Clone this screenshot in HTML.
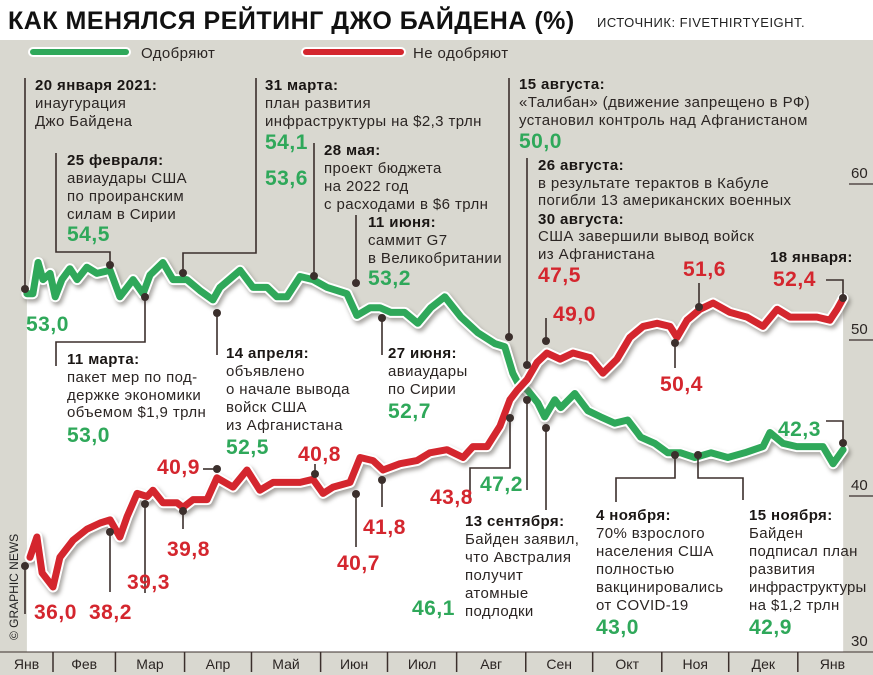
<!DOCTYPE html>
<html><head><meta charset="utf-8">
<style>
html,body{margin:0;padding:0;background:#fff;}
svg{display:block;font-family:"Liberation Sans","Noto Sans CJK SC",sans-serif;}
.t{font-size:15px;fill:#2b2523;letter-spacing:0.4px;}
.b{font-size:15px;font-weight:bold;fill:#1a1614;letter-spacing:0.4px;}
.g{font-size:21px;font-weight:bold;fill:#2fa85a;letter-spacing:0.5px;}
.r{font-size:21px;font-weight:bold;fill:#d4262e;letter-spacing:0.5px;}
.m{font-size:14px;fill:#2b2523;}
.ld{stroke:#3b2f2c;stroke-width:1.6;fill:none;}
</style></head><body>
<svg id="chart" width="873" height="675" viewBox="0 0 873 675">
<defs>
<filter id="sh" x="-5%" y="-5%" width="110%" height="120%"><feGaussianBlur stdDeviation="2"/></filter>
</defs>
<rect x="0" y="40" width="873" height="635" fill="#d9d8d0"/>
<g id="whiteArea"></g>
<g id="lines"></g>
<text x="8" y="29" style="font-size:25px;font-weight:bold;fill:#111;letter-spacing:0.5px">КАК МЕНЯЛСЯ РЕЙТИНГ ДЖО БАЙДЕНА (%)</text>
<text x="597" y="27" style="font-size:13px;fill:#222;letter-spacing:0.5px">ИСТОЧНИК: FIVETHIRTYEIGHT.</text>
<g>
<line x1="33" y1="52" x2="126" y2="52" stroke="#fff" stroke-width="10" stroke-linecap="round"/>
<line x1="33" y1="52" x2="126" y2="52" stroke="#2fa85a" stroke-width="6" stroke-linecap="round"/>
<text x="141" y="58" class="t">Одобряют</text>
<line x1="306" y1="52" x2="401" y2="52" stroke="#fff" stroke-width="10" stroke-linecap="round"/>
<line x1="306" y1="52" x2="401" y2="52" stroke="#d4262e" stroke-width="6" stroke-linecap="round"/>
<text x="413" y="58" class="t">Не одобряют</text>
</g>
<g id="axes">
<rect x="0" y="652" width="873" height="23" fill="#d9d8d0"/>
<line x1="0" y1="652" x2="873" y2="652" stroke="#3b2f2c" stroke-width="1"/>
</g>
<text x="18" y="640" transform="rotate(-90 18 640)" style="font-size:12px;fill:#222">© GRAPHIC NEWS</text>
<g>
<path class="ld" d="M25 78V289"/>
<path class="ld" d="M56 153V252H110V265"/>
<path class="ld" d="M256 78V253H183V273"/>
<path class="ld" d="M314 143V276"/>
<path class="ld" d="M356 215V283"/>
<path class="ld" d="M509 78V337"/>
<path class="ld" d="M527 158V365"/>
<path class="ld" d="M826 280H843V298"/>
<path class="ld" d="M699 283V307"/>
<path class="ld" d="M546 318V341"/>
<path class="ld" d="M675 343V368"/>
<path class="ld" d="M826 421H843V443"/>
<path class="ld" d="M145 297V342H56V366"/>
<path class="ld" d="M217 313V355"/>
<path class="ld" d="M382 318V355"/>
<path class="ld" d="M203 469H217"/>
<path class="ld" d="M315 474V464"/>
<path class="ld" d="M145 504V593"/>
<path class="ld" d="M183 511V529"/>
<path class="ld" d="M110 532V592"/>
<path class="ld" d="M25 566V614"/>
<path class="ld" d="M382 480V507"/>
<path class="ld" d="M356 494V547"/>
<path class="ld" d="M510 418V468H470V503"/>
<path class="ld" d="M527 400V490"/>
<path class="ld" d="M546 428V510"/>
<path class="ld" d="M675 455V478H616V502"/>
<path class="ld" d="M698 455V478H743V500"/>
<g fill="#3b2f2c">
<circle cx="25" cy="289" r="4"/><circle cx="110" cy="265" r="4"/><circle cx="183" cy="273" r="4"/>
<circle cx="314" cy="276" r="4"/><circle cx="356" cy="283" r="4"/><circle cx="509" cy="337" r="4"/>
<circle cx="527" cy="365" r="4"/><circle cx="843" cy="298" r="4"/><circle cx="699" cy="307" r="4"/>
<circle cx="546" cy="341" r="4"/><circle cx="675" cy="343" r="4"/><circle cx="843" cy="443" r="4"/>
<circle cx="145" cy="297" r="4"/><circle cx="217" cy="313" r="4"/><circle cx="382" cy="318" r="4"/>
<circle cx="217" cy="469" r="4"/><circle cx="315" cy="474" r="4"/><circle cx="145" cy="504" r="4"/>
<circle cx="183" cy="511" r="4"/><circle cx="110" cy="532" r="4"/><circle cx="25" cy="566" r="4"/>
<circle cx="382" cy="480" r="4"/><circle cx="356" cy="494" r="4"/><circle cx="510" cy="418" r="4"/>
<circle cx="527" cy="400" r="4"/><circle cx="546" cy="428" r="4"/><circle cx="675" cy="455" r="4"/>
<circle cx="698" cy="455" r="4"/>
</g>
<text x="35" y="90" class="b">20 января 2021:</text>
<text x="35" y="108" class="t">инаугурация</text>
<text x="35" y="126" class="t">Джо Байдена</text>

<text x="67" y="165" class="b">25 февраля:</text>
<text x="67" y="183" class="t">авиаудары США</text>
<text x="67" y="201" class="t">по проиранским</text>
<text x="67" y="219" class="t">силам в Сирии</text>
<text x="67" y="241" class="g">54,5</text>

<text x="265" y="90" class="b">31 марта:</text>
<text x="265" y="108" class="t">план развития</text>
<text x="265" y="126" class="t">инфраструктуры на $2,3 трлн</text>
<text x="265" y="149" class="g">54,1</text>
<text x="265" y="185" class="g">53,6</text>

<text x="324" y="155" class="b">28 мая:</text>
<text x="324" y="173" class="t">проект бюджета</text>
<text x="324" y="191" class="t">на 2022 год</text>
<text x="324" y="209" class="t">с расходами в $6 трлн</text>

<text x="368" y="227" class="b">11 июня:</text>
<text x="368" y="245" class="t">саммит G7</text>
<text x="368" y="263" class="t">в Великобритании</text>
<text x="368" y="285" class="g">53,2</text>

<text x="519" y="89" class="b">15 августа:</text>
<text x="519" y="107" class="t">«Талибан» (движение запрещено в РФ)</text>
<text x="519" y="125" class="t">установил контроль над Афганистаном</text>
<text x="519" y="148" class="g">50,0</text>

<text x="538" y="170" class="b">26 августа:</text>
<text x="538" y="188" class="t">в результате терактов в Кабуле</text>
<text x="538" y="205" class="t">погибли 13 американских военных</text>
<text x="538" y="224" class="b">30 августа:</text>
<text x="538" y="241" class="t">США завершили вывод войск</text>
<text x="538" y="259" class="t">из Афганистана</text>
<text x="538" y="282" class="r">47,5</text>

<text x="770" y="262" class="b">18 января:</text>
<text x="773" y="286" class="r">52,4</text>
<text x="683" y="276" class="r">51,6</text>
<text x="553" y="321" class="r">49,0</text>
<text x="660" y="391" class="r">50,4</text>
<text x="778" y="436" class="g">42,3</text>
<text x="26" y="331" class="g">53,0</text>

<text x="67" y="364" class="b">11 марта:</text>
<text x="67" y="382" class="t">пакет мер по под-</text>
<text x="67" y="400" class="t">держке экономики</text>
<text x="67" y="417" class="t">объемом $1,9 трлн</text>
<text x="67" y="442" class="g">53,0</text>

<text x="226" y="358" class="b">14 апреля:</text>
<text x="226" y="376" class="t">объявлено</text>
<text x="226" y="394" class="t">о начале вывода</text>
<text x="226" y="412" class="t">войск США</text>
<text x="226" y="430" class="t">из Афганистана</text>
<text x="226" y="454" class="g">52,5</text>

<text x="388" y="358" class="b">27 июня:</text>
<text x="388" y="376" class="t">авиаудары</text>
<text x="388" y="394" class="t">по Сирии</text>
<text x="388" y="418" class="g">52,7</text>

<text x="157" y="474" class="r">40,9</text>
<text x="298" y="461" class="r">40,8</text>
<text x="127" y="589" class="r">39,3</text>
<text x="167" y="556" class="r">39,8</text>
<text x="89" y="619" class="r">38,2</text>
<text x="34" y="619" class="r">36,0</text>
<text x="363" y="534" class="r">41,8</text>
<text x="337" y="570" class="r">40,7</text>
<text x="430" y="504" class="r">43,8</text>
<text x="480" y="491" class="g">47,2</text>
<text x="412" y="615" class="g">46,1</text>

<text x="465" y="526" class="b">13 сентября:</text>
<text x="465" y="544" class="t">Байден заявил,</text>
<text x="465" y="562" class="t">что Австралия</text>
<text x="465" y="580" class="t">получит</text>
<text x="465" y="598" class="t">атомные</text>
<text x="465" y="616" class="t">подлодки</text>

<text x="596" y="520" class="b">4 ноября:</text>
<text x="596" y="538" class="t">70% взрослого</text>
<text x="596" y="556" class="t">населения США</text>
<text x="596" y="574" class="t">полностью</text>
<text x="596" y="592" class="t">вакцинировались</text>
<text x="596" y="610" class="t">от COVID-19</text>
<text x="596" y="634" class="g">43,0</text>

<text x="749" y="520" class="b">15 ноября:</text>
<text x="749" y="538" class="t">Байден</text>
<text x="749" y="556" class="t">подписал план</text>
<text x="749" y="574" class="t">развития</text>
<text x="749" y="592" class="t" style="letter-spacing:0.1px">инфраструктуры</text>
<text x="749" y="610" class="t">на $1,2 трлн</text>
<text x="749" y="634" class="g">42,9</text>
</g>
</svg>
<script>
// Day-of-year (from 1 Jan 2021) and rating values
const approveDays = [19.3,22,24.3,26.5,29.7,32,35,38.6,41.8,46.2,50.7,56.6,61,66.9,71.4,74.5,80.3,84.8,91,96.9,102.7,105.9,114.9,120.7,127,131.4,135.9,141.8,147.6,153.9,162.8,167.3,173.2,177.6,182.5,188.7,194.6,200.4,206.7,213.9,221.5,229.1,233.6,237.2,239.4,243.9,248.4,251.5,256,258.7,265,270.8,276.6,282.9,288.7,294.6,300.9,306.7,312.5,318.8,326,333.6,341.2,349.4,352.5,358.4,364.6,370.5,376.3,380.8,385.3];
const approveValues = [52.2,52.2,54.2,53.1,53.5,52.0,53.1,53.8,53.1,53.9,53.5,53.7,52.0,53.1,52.2,53.4,54.2,53.1,53.1,52.4,51.8,52.6,53.7,52.6,52.6,52.0,52.0,53.3,53.1,52.6,52.2,50.8,51.3,51.3,51.0,51.0,50.3,51.3,52.0,50.7,49.7,49.0,48.8,47.1,46.5,46.0,45.2,44.3,45.4,44.9,45.8,44.7,44.3,43.9,44.1,43.0,42.6,42.0,42.0,41.7,42.0,41.7,42.0,42.4,43.3,42.6,42.4,42.4,42.4,41.3,42.2];
const disapproveDays = [20.7,23.8,26.1,31,34.1,40,46.2,52.1,56.6,61,64.2,68.7,73.2,75.8,80.3,86.6,89.3,93.8,100.1,104.5,111.7,118,123.8,129.7,135.9,141.8,147.6,152.1,156.6,164.2,168.7,174.5,179,186.6,194.2,200,207.7,214.9,219.3,225.6,231.4,235.9,239.1,243.6,248.1,252.5,258.4,264.2,271.8,277.6,283.9,289.7,295.6,301.9,307.7,310.8,315.3,321.1,327,334.6,342.2,349.4,355.7,361.5,367.3,373.6,379.4,382.6,385.3];
const disapproveValues = [35.3,36.6,34.3,33.4,35.3,36.4,37.1,37.5,37.7,36.6,37.9,39.4,39.2,39.6,38.8,38.8,38.5,39.0,39.0,40.4,39.8,40.9,39.6,40.1,40.1,40.1,40.3,39.4,39.8,40.1,41.7,41.5,40.9,41.3,41.5,42.0,42.2,41.7,42.4,42.4,43.7,45.4,46.0,46.7,47.8,48.4,48.0,48.4,48.1,47.1,48.0,49.4,50.1,50.3,50.1,49.4,50.5,51.2,51.6,51.0,50.7,50.1,51.2,50.7,50.7,50.7,50.5,51.2,51.9];
const monthLabels = ["Янв","Фев","Мар","Апр","Май","Июн","Июл","Авг","Сен","Окт","Ноя","Дек","Янв"];
const monthStartDays = [0,31,59,90,120,151,181,212,243,273,304,334,365,396];
const yTicks = [30,40,50,60];

const NS = "http://www.w3.org/2000/svg";
function xs(d){ return 53 + (d - 31) * 2.23; }
function ys(v){ return 640 - (v - 30) * 15.6; }
function mk(tag, attrs, parent){ const e = document.createElementNS(NS, tag); for (const k in attrs) e.setAttribute(k, attrs[k]); parent.appendChild(e); return e; }
function pts(days, vals){ return days.map((d,i)=>xs(d).toFixed(1)+","+ys(vals[i]).toFixed(1)); }

const wa = document.getElementById('whiteArea');
[[approveDays,approveValues],[disapproveDays,disapproveValues]].forEach(([d,v],i)=>{
  const p = pts(d,v);
  const poly = mk('polygon',{points: p.join(' ')+' '+xs(d[d.length-1]).toFixed(1)+',652 '+xs(d[0]).toFixed(1)+',652', fill:'#fff'}, wa);
  
  
});

const lg = document.getElementById('lines');
const series = [[approveDays,approveValues,'#2fa85a','approve-line'],[disapproveDays,disapproveValues,'#d4262e','disapprove-line']];
series.forEach(([d,v,c,n])=>{
  const p = pts(d,v).join(' ');
  const s = mk('polyline',{points:p, fill:'none', stroke:'#6a6660', 'stroke-width':11, 'stroke-linejoin':'round','stroke-linecap':'round', transform:'translate(2,3)', filter:'url(#sh)', opacity:0.6}, lg);
  
  
  const w = mk('polyline',{points:p, fill:'none', stroke:'#fff', 'stroke-width':11, 'stroke-linejoin':'round','stroke-linecap':'round'}, lg);
  
  
  const l = mk('polyline',{points:p, fill:'none', stroke:c, 'stroke-width':7, 'stroke-linejoin':'round','stroke-linecap':'round'}, lg);
  
  
});

const ax = document.getElementById('axes');
monthStartDays.forEach((d,i)=>{
  if (i>0 && i<monthStartDays.length-1){
    const t = mk('line',{x1:xs(d),x2:xs(d),y1:652,y2:672,stroke:'#3b2f2c','stroke-width':1.5}, ax);
    
    
  }
});
monthLabels.forEach((m,i)=>{
  let a = Math.max(xs(monthStartDays[i]), 0), b = xs(monthStartDays[i+1]);
  const t = mk('text',{x:((a+b)/2).toFixed(1), y:669, 'text-anchor':'middle', class:'m'}, ax);
  t.textContent = m;
  
  
});
yTicks.forEach(v=>{
  const t = mk('text',{x:851, y:ys(v)+6, class:'m', style:'font-size:15px'}, ax);
  t.textContent = v;
  
  
  if (v>30){
    const l = mk('line',{x1:849,x2:873,y1:ys(v)+12,y2:ys(v)+12,stroke:'#3b2f2c','stroke-width':1.2}, ax);
    
    
  }
});
</script>
</body></html>
